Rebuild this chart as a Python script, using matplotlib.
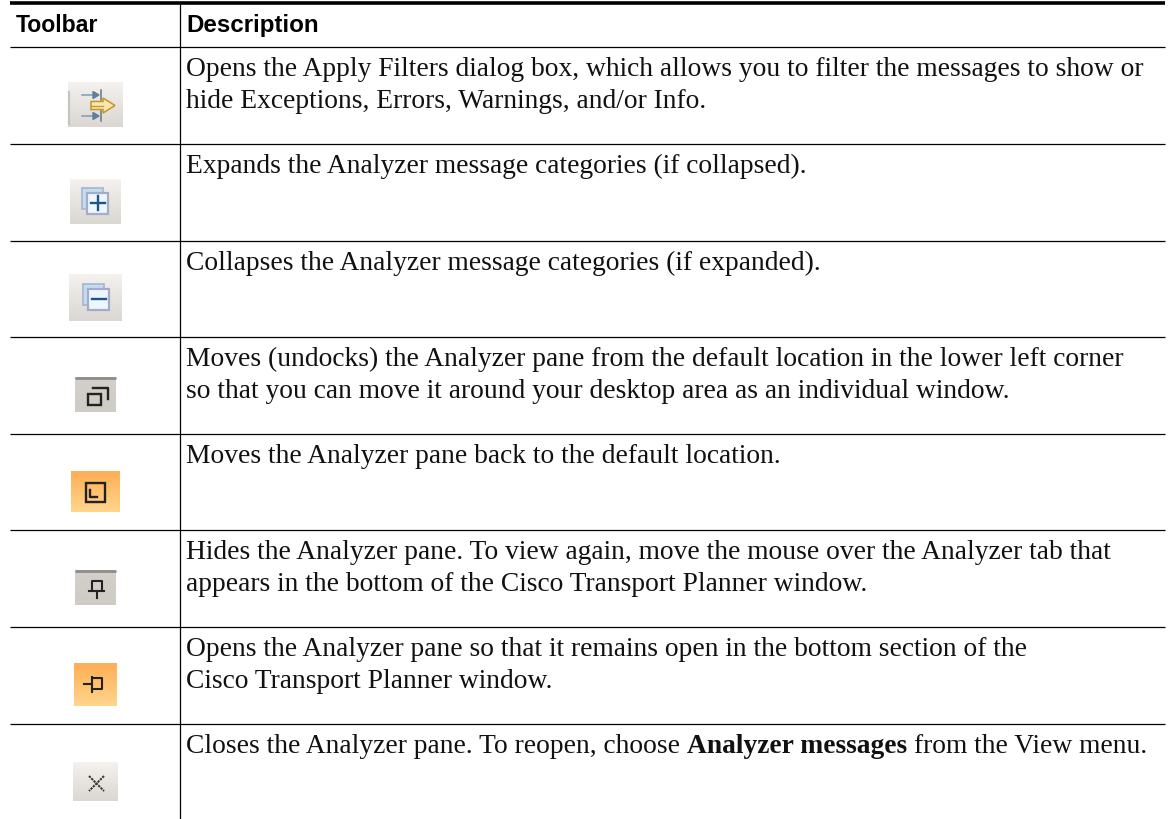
import numpy as np
import matplotlib
matplotlib.use('Agg')
import matplotlib.pyplot as plt
from matplotlib.colors import LinearSegmentedColormap

headers = ['Toolbar', 'Description']
descriptions = [
    ['Opens the Apply Filters dialog box, which allows you to filter the messages to show or',
     'hide Exceptions, Errors, Warnings, and/or Info.'],
    ['Expands the Analyzer message categories (if collapsed).'],
    ['Collapses the Analyzer message categories (if expanded).'],
    ['Moves (undocks) the Analyzer pane from the default location in the lower left corner',
     'so that you can move it around your desktop area as an individual window.'],
    ['Moves the Analyzer pane back to the default location.'],
    ['Hides the Analyzer pane. To view again, move the mouse over the Analyzer tab that',
     'appears in the bottom of the Cisco Transport Planner window.'],
    ['Opens the Analyzer pane so that it remains open in the bottom section of the',
     'Cisco Transport Planner window.'],
    ['Closes the Analyzer pane. To reopen, choose'],
]
bold_part = 'Analyzer messages'
tail_part = 'from the View menu.'
row_lines = [47, 144, 241, 337, 434, 530, 627, 724]
icon_boxes = [(68, 123, 82, 127), (70, 121, 179, 224), (69, 122, 274, 321), (75, 116, 377, 412),
              (71, 120, 471, 512), (75, 116, 570, 605), (74, 117, 663, 706), (73, 118, 762, 801)]
gray_top = '#f4f1ee'
gray_bot = '#dbd7d2'
flat_top = '#d3d0ca'
flat_bot = '#cfccc5'
orange_top = '#ffae55'
orange_bot = '#ffd58c'
icon_colors = [(gray_top, gray_bot), (gray_top, gray_bot), (gray_top, gray_bot), (flat_top, flat_bot),
               (orange_top, orange_bot), (flat_top, flat_bot), (orange_top, orange_bot), (gray_top, gray_bot)]

fig = plt.figure(figsize=(11.68, 8.19), dpi=100)
ax = fig.add_axes([0, 0, 1, 1])
ax.set_xlim(0, 1168)
ax.set_ylim(819, 0)
ax.axis('off')

# table rules
ax.plot([10, 1165], [3.3, 3.3], color='black', lw=2.6, solid_capstyle='butt')
for y in row_lines:
    ax.plot([10, 1165], [y, y], color='black', lw=0.9, solid_capstyle='butt')
ax.plot([180, 180], [3, 819], color='black', lw=0.9, solid_capstyle='butt')

ax.text(16, 32, headers[0], family='Liberation Sans', weight='bold', fontsize=16.6)
ax.text(186, 32, headers[1], family='Liberation Sans', weight='bold', fontsize=17.4)

text_size = 19.85
for y, lines in zip(row_lines, descriptions):
    for k, line in enumerate(lines):
        t = ax.text(186, y + 29 + 32 * k, line, family='Liberation Serif', fontsize=text_size, color='#111111')

# last row has a bold run, placed after the plain text before it
renderer = fig.canvas.get_renderer()
x_end = t.get_window_extent(renderer).x1 + 0.25 * text_size * 100 / 72
tb = ax.text(x_end, row_lines[-1] + 29, bold_part, family='Liberation Serif', weight='bold',
             fontsize=text_size, color='#111111')
x_end = tb.get_window_extent(renderer).x1 + 0.25 * text_size * 100 / 72
ax.text(x_end, row_lines[-1] + 29, tail_part, family='Liberation Serif', fontsize=text_size, color='#111111')

# icon backgrounds
for (x0, x1, y0, y1), (c0, c1) in zip(icon_boxes, icon_colors):
    cmap = LinearSegmentedColormap.from_list('bg', [c0, c1])
    ax.imshow(np.linspace(0, 1, 32).reshape(-1, 1), extent=(x0, x1, y1, y0), cmap=cmap, aspect='auto', zorder=1)
ax.set_xlim(0, 1168)
ax.set_ylim(819, 0)

# filter icon
ax.plot([69, 69], [92, 124], color='#c4c4c4', lw=1.6, zorder=2)
for y in [95, 116]:
    ax.plot([82, 97], [y, y], color='#7f9db5', lw=1.1, zorder=2)
    ax.fill([93, 99, 93], [y - 3.5, y, y + 3.5], color='#5f7f9c', zorder=2)
    ax.plot([101, 101], [y - 5, y + 5], color='#66788a', lw=1.1, zorder=2)
ax.fill([91, 103, 103, 115, 103, 103, 91], [101.5, 101.5, 98, 105.5, 113, 109.5, 109.5], facecolor='#f9e7ad',
        edgecolor='#c7952d', lw=1.1, zorder=3)
ax.plot([91, 103], [105.5, 105.5], color='#c7952d', lw=0.9, zorder=4)

# expand / collapse
for (x0, y0, sym) in [(82, 188, '+'), (83, 284, '-')]:
    ax.add_patch(plt.Rectangle((x0, y0), 21, 21, fc='#c3dcf2', ec='#aab9d2', lw=1.3, zorder=2))
    ax.add_patch(plt.Rectangle((x0 + 5, y0 + 5), 21, 21, fc='#eef6fd', ec='#a3adc9', lw=1.6, zorder=3))
    ax.plot([x0 + 9, x0 + 23], [y0 + 15, y0 + 15], color='#1f5586', lw=1.7, zorder=4)
    if sym == '+':
        ax.plot([x0 + 16, x0 + 16], [y0 + 8, y0 + 22], color='#1f5586', lw=1.7, zorder=4)

# undock
ax.plot([75, 116], [378, 378], color='#8e8c88', lw=2, solid_capstyle='butt', zorder=2)
ax.add_patch(plt.Rectangle((88, 394), 13, 11, fc='none', ec='#222222', lw=1.7, zorder=3))
ax.plot([93, 107.5, 107.5], [388, 388, 399], color='#222222', lw=1.7, zorder=3)

# dock
ax.add_patch(plt.Rectangle((86, 483), 19, 19, fc='none', ec='#222222', lw=1.7, zorder=3))
ax.plot([90, 90, 97], [490, 497, 497], color='#222222', lw=1.7, zorder=3)

# pin down
ax.plot([75, 116], [570.5, 570.5], color='#8e8c88', lw=2, solid_capstyle='butt', zorder=2)
ax.plot([92, 92, 102, 102], [591, 581, 581, 591], color='#222222', lw=1.5, zorder=3)
ax.plot([89, 104], [591, 591], color='#222222', lw=1.5, zorder=3)
ax.plot([97, 97], [591, 598], color='#222222', lw=1.5, zorder=3)

# pin side
ax.plot([91.5, 102, 102, 91.5], [678, 678, 689, 689], color='#222222', lw=1.5, zorder=3)
ax.plot([91.5, 91.5], [677, 692], color='#222222', lw=1.5, zorder=3)
ax.plot([84, 91.5], [684, 684], color='#222222', lw=1.5, zorder=3)

# close
ax.plot([89, 104], [776, 791], color='#333333', lw=1.4, ls=(0, (1.2, 0.5)), zorder=3)
ax.plot([104, 89], [776, 791], color='#333333', lw=1.4, ls=(0, (1.2, 0.5)), zorder=3)

fig.savefig('out.png', dpi=100)
